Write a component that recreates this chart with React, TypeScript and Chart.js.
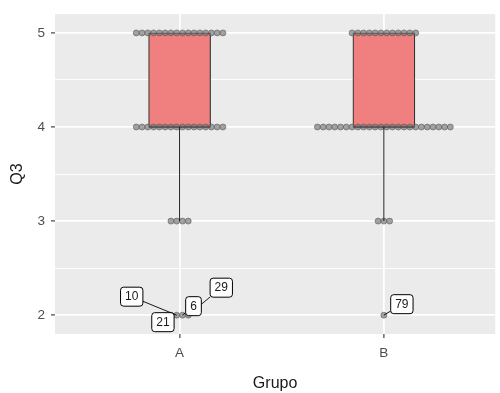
import React, { useEffect, useRef } from 'react';
import { Chart, registerables } from 'chart.js';

Chart.register(...registerables);

// ---- data ----
const GROUPS = ['A', 'B'];
const LEVELS = [2, 3, 4, 5];
const COUNTS_A = [4, 4, 16, 16];
const COUNTS_B = [1, 3, 24, 12];
const OUTLIER_IDS_A = [21, 10, 6, 29];
const OUTLIER_IDS_B = [79];
const Y_TICKS = [2, 3, 4, 5];
const Y_MINOR = [2.5, 3.5, 4.5];

// ---- styling / layout constants ----
const LABEL_OFFSETS_A = [
  [-8, 7],
  [-45, -18.5],
  [11, -9],
  [33, -27.5],
];
const LABEL_OFFSETS_B = [[18, -11]];
const DOT_STEP = 0.0283; // x units between stacked dots
const BOX_HALF = 0.151; // x units
const FONT = '"Liberation Sans", Arial, sans-serif';

function expand(counts: number[]): number[] {
  const out: number[] = [];
  counts.forEach((c, i) => {
    for (let k = 0; k < c; k++) out.push(LEVELS[i]);
  });
  return out;
}
function quantile(sorted: number[], p: number): number {
  const h = (sorted.length - 1) * p;
  const lo = Math.floor(h);
  const hi = Math.ceil(h);
  return sorted[lo] + (h - lo) * (sorted[hi] - sorted[lo]);
}
function boxStats(counts: number[]) {
  const v = expand(counts).sort((a, b) => a - b);
  const q1 = quantile(v, 0.25);
  const med = quantile(v, 0.5);
  const q3 = quantile(v, 0.75);
  const iqr = q3 - q1;
  const lo = Math.min(...v.filter((d) => d >= q1 - 1.5 * iqr));
  const hi = Math.max(...v.filter((d) => d <= q3 + 1.5 * iqr));
  return { q1, med, q3, lo, hi };
}

const ALL_COUNTS = [COUNTS_A, COUNTS_B];
const ALL_IDS = [OUTLIER_IDS_A, OUTLIER_IDS_B];
const ALL_OFFSETS = [LABEL_OFFSETS_A, LABEL_OFFSETS_B];

function dotPoints(counts: number[], g: number) {
  const pts: { x: number; y: number }[] = [];
  counts.forEach((n, li) => {
    for (let i = 0; i < n; i++) {
      pts.push({ x: g + (i - (n - 1) / 2) * DOT_STEP, y: LEVELS[li] });
    }
  });
  return pts;
}

export default function App() {
  const ref = useRef<HTMLCanvasElement | null>(null);

  useEffect(() => {
    if (!ref.current) return;
    const stats = ALL_COUNTS.map(boxStats);

    const datasets: any[] = [];
    datasets.push({
      type: 'bar',
      data: stats.map((s, i) => ({ x: i + 1, y: [s.q1, s.q3] })),
      backgroundColor: '#F08080',
      borderColor: '#333333',
      borderWidth: 1.2,
      borderSkipped: false,
      barThickness: 62,
      order: 10,
    });
    stats.forEach((s, i) => {
      datasets.push({
        type: 'line',
        data: [
          { x: i + 1 - BOX_HALF, y: s.med },
          { x: i + 1 + BOX_HALF, y: s.med },
        ],
        borderColor: '#333333',
        borderWidth: 2.2,
        pointRadius: 0,
        order: 9,
      });
    });
    ALL_COUNTS.forEach((c, i) => {
      datasets.push({
        type: 'line',
        showLine: false,
        data: dotPoints(c, i + 1),
        pointRadius: 3,
        pointBackgroundColor: 'rgba(115,115,115,0.65)',
        pointBorderColor: 'rgba(80,80,80,0.65)',
        pointBorderWidth: 0.8,
        order: 8,
      });
    });
    stats.forEach((s, i) => {
      datasets.push({
        type: 'line',
        data: [
          { x: i + 1, y: s.lo },
          { x: i + 1, y: s.q1 },
        ],
        borderColor: '#1a1a1a',
        borderWidth: 1,
        pointRadius: 0,
        order: 7,
      });
      if (s.hi > s.q3) {
        datasets.push({
          type: 'line',
          data: [
            { x: i + 1, y: s.q3 },
            { x: i + 1, y: s.hi },
          ],
          borderColor: '#1a1a1a',
          borderWidth: 1,
          pointRadius: 0,
          order: 7,
        });
      }
    });

    const bgPlugin = {
      id: 'bg',
      beforeDraw(chart: any) {
        const { ctx, chartArea: a } = chart;
        ctx.save();
        ctx.fillStyle = '#ffffff';
        ctx.fillRect(0, 0, chart.width, chart.height);
        ctx.fillStyle = '#EBEBEB';
        ctx.fillRect(a.left, a.top, a.right - a.left, a.bottom - a.top);
        ctx.restore();
      },
    };

    const labelPlugin = {
      id: 'repelLabels',
      afterDatasetsDraw(chart: any) {
        const { ctx } = chart;
        const xs = chart.scales.x;
        const ys = chart.scales.y;
        ctx.save();
        ctx.font = `12px ${FONT}`;
        const items: any[] = [];
        ALL_COUNTS.forEach((counts, g) => {
          const s = stats[g];
          const pts = dotPoints(counts, g + 1).filter((p) => p.y < s.lo || p.y > s.hi);
          pts.forEach((p, k) => {
            const id = ALL_IDS[g][k];
            if (id === undefined) return;
            const off = ALL_OFFSETS[g][k] || [10, -10];
            const px = xs.getPixelForValue(p.x);
            const py = ys.getPixelForValue(p.y);
            const text = String(id);
            const w = ctx.measureText(text).width + 9;
            const h = 19;
            items.push({ px, py, cx: px + off[0], cy: py + off[1], w, h, text });
          });
        });
        // segments
        ctx.strokeStyle = '#000000';
        ctx.lineWidth = 0.9;
        items.forEach((it) => {
          const dx = it.px - it.cx;
          const dy = it.py - it.cy;
          const tx = dx !== 0 ? it.w / 2 / Math.abs(dx) : Infinity;
          const ty = dy !== 0 ? it.h / 2 / Math.abs(dy) : Infinity;
          const t = Math.min(tx, ty);
          if (t >= 1) return;
          ctx.beginPath();
          ctx.moveTo(it.px, it.py);
          ctx.lineTo(it.cx + dx * t, it.cy + dy * t);
          ctx.stroke();
        });
        // boxes
        items.forEach((it) => {
          const x0 = it.cx - it.w / 2;
          const y0 = it.cy - it.h / 2;
          ctx.beginPath();
          ctx.roundRect(x0, y0, it.w, it.h, 3);
          ctx.fillStyle = '#ffffff';
          ctx.fill();
          ctx.lineWidth = 1;
          ctx.strokeStyle = '#000000';
          ctx.stroke();
          ctx.fillStyle = '#1a1a1a';
          ctx.textAlign = 'center';
          ctx.textBaseline = 'middle';
          ctx.fillText(it.text, it.cx, it.cy + 0.5);
        });
        ctx.restore();
      },
    };

    const chart = new Chart(ref.current, {
      type: 'bar',
      data: { datasets },
      plugins: [bgPlugin, labelPlugin],
      options: {
        animation: false,
        responsive: true,
        maintainAspectRatio: false,
        layout: { padding: { top: 14, right: 3, left: 0, bottom: 0 } },
        plugins: { legend: { display: false }, tooltip: { enabled: false } },
        scales: {
          x: {
            type: 'linear',
            offset: false,
            min: 0.39,
            max: 2.545,
            afterBuildTicks: (s: any) => {
              s.ticks = GROUPS.map((_, i) => ({ value: i + 1 }));
            },
            afterFit: (s: any) => {
              s.height = 59;
            },
            grid: {
              offset: false,
              color: '#ffffff',
              lineWidth: 1.8,
              drawTicks: true,
              tickLength: 4,
              tickColor: '#333333',
              tickWidth: 1.1,
            },
            border: { display: false },
            ticks: {
              autoSkip: false,
              maxRotation: 0,
              padding: 7,
              color: '#4D4D4D',
              font: { family: FONT, size: 13.5 },
              callback: (v: any) => GROUPS[Math.round(v) - 1] ?? '',
            },
            title: {
              display: true,
              text: 'Grupo',
              color: '#1a1a1a',
              font: { family: FONT, size: 16 },
              padding: { top: 0, bottom: 0 },
            },
          },
          y: {
            type: 'linear',
            min: 1.8,
            max: 5.2,
            afterBuildTicks: (s: any) => {
              s.ticks = [...Y_TICKS, ...Y_MINOR].sort((a, b) => a - b).map((v) => ({ value: v }));
            },
            afterFit: (s: any) => {
              s.width = 55;
            },
            grid: {
              color: '#ffffff',
              lineWidth: (c: any) => (Y_TICKS.includes(c.tick?.value) ? 1.8 : 0.9),
              drawTicks: true,
              tickLength: 4,
              tickColor: (c: any) => (Y_TICKS.includes(c.tick?.value) ? '#333333' : 'rgba(0,0,0,0)'),
              tickWidth: 1.1,
            },
            border: { display: false },
            ticks: {
              autoSkip: false,
              padding: 6,
              color: '#4D4D4D',
              font: { family: FONT, size: 13.5 },
              callback: (v: any) => (Y_TICKS.includes(v) ? String(v) : ''),
            },
            title: {
              display: true,
              text: 'Q3',
              color: '#1a1a1a',
              font: { family: FONT, size: 16 },
              padding: { top: 8, bottom: 0 },
            },
          },
        },
      },
    } as any);

    return () => chart.destroy();
  }, []);

  return (
    <div style={{ position: 'fixed', left: 0, top: 0, width: 500, height: 393, background: '#fff' }}>
      <canvas ref={ref} />
    </div>
  );
}
